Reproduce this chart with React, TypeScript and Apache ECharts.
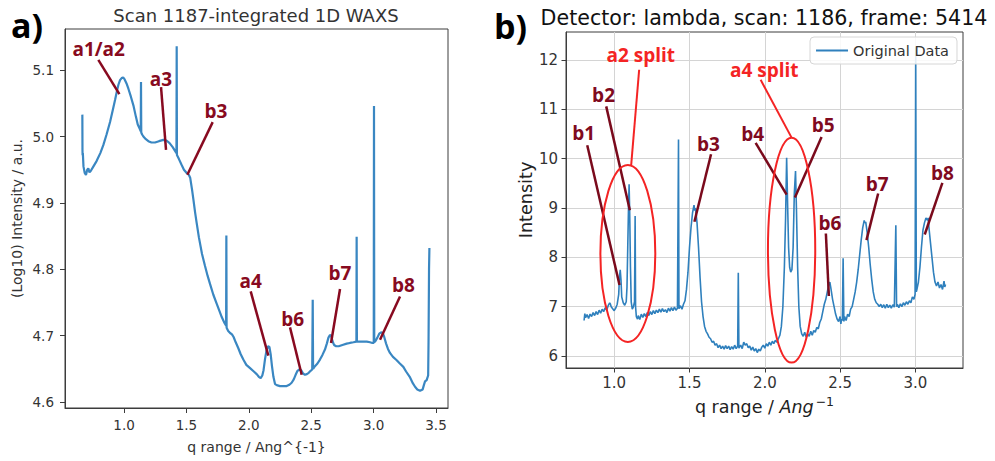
import React, { useEffect, useRef } from 'react';
import * as echarts from 'echarts';

const FONT = '"DejaVu Sans", sans-serif';
const ANN_FONT = '"Open Sans", "Liberation Sans", sans-serif';

// ---- Panel a) : Scan 1187 integrated 1D WAXS (log10 intensity) ----
const leftScan: [number, number][] = [
  [0.666, 5.033], [0.667, 4.98], [0.668, 4.972], [0.67, 4.975], [0.675, 4.955], [0.685, 4.945],
  [0.695, 4.942], [0.705, 4.95], [0.714, 4.952], [0.723, 4.946], [0.733, 4.948], [0.755, 4.955],
  [0.78, 4.963], [0.81, 4.975], [0.834, 4.987], [0.86, 5.003], [0.888, 5.022], [0.91, 5.04],
  [0.928, 5.055], [0.945, 5.07], [0.955, 5.078], [0.968, 5.085], [0.981, 5.088], [0.993, 5.089],
  [1.005, 5.086], [1.02, 5.08], [1.035, 5.072], [1.055, 5.06], [1.075, 5.047], [1.095, 5.03],
  [1.11, 5.018], [1.125, 5.012], [1.134, 5.008], [1.136, 5.082], [1.138, 5.006], [1.145, 5.003],
  [1.155, 5.0], [1.175, 4.996], [1.195, 4.993], [1.22, 4.991], [1.248, 4.991], [1.28, 4.993],
  [1.315, 4.995], [1.34, 4.994], [1.365, 4.99], [1.39, 4.984], [1.41, 4.978], [1.42, 4.975],
  [1.422, 5.136], [1.424, 4.972], [1.44, 4.966], [1.462, 4.957], [1.48, 4.95], [1.502, 4.945],
  [1.52, 4.942], [1.53, 4.938], [1.545, 4.92], [1.556, 4.905], [1.57, 4.885], [1.582, 4.87],
  [1.6, 4.848], [1.625, 4.823], [1.649, 4.805], [1.67, 4.79], [1.689, 4.778], [1.715, 4.762],
  [1.743, 4.748], [1.765, 4.737], [1.783, 4.728], [1.805, 4.719], [1.818, 4.715], [1.82, 4.851],
  [1.822, 4.712], [1.835, 4.707], [1.85, 4.704], [1.865, 4.702], [1.878, 4.698], [1.895, 4.69],
  [1.916, 4.681], [1.935, 4.672], [1.956, 4.664], [1.98, 4.656], [2.01, 4.651], [2.04, 4.646],
  [2.063, 4.642], [2.08, 4.638], [2.095, 4.636], [2.108, 4.64], [2.118, 4.648], [2.13, 4.665],
  [2.142, 4.678], [2.155, 4.684], [2.165, 4.683], [2.175, 4.672], [2.185, 4.655], [2.197, 4.638],
  [2.21, 4.627], [2.23, 4.625], [2.25, 4.624], [2.275, 4.624], [2.303, 4.624], [2.325, 4.626],
  [2.343, 4.629], [2.36, 4.634], [2.375, 4.641], [2.39, 4.647], [2.405, 4.649], [2.42, 4.648],
  [2.435, 4.643], [2.45, 4.641], [2.465, 4.642], [2.48, 4.644], [2.495, 4.647], [2.508, 4.649],
  [2.512, 4.754], [2.515, 4.65], [2.53, 4.654], [2.55, 4.658], [2.57, 4.664], [2.59, 4.671],
  [2.61, 4.679], [2.625, 4.688], [2.638, 4.697], [2.65, 4.701], [2.66, 4.7], [2.67, 4.692],
  [2.683, 4.686], [2.7, 4.684], [2.72, 4.684], [2.75, 4.686], [2.784, 4.688], [2.81, 4.689],
  [2.838, 4.69], [2.862, 4.691], [2.864, 4.849], [2.866, 4.691], [2.89, 4.691], [2.918, 4.691],
  [2.945, 4.691], [2.971, 4.69], [2.99, 4.689], [3.001, 4.689], [3.003, 5.046], [3.005, 4.69],
  [3.015, 4.692], [3.03, 4.697], [3.045, 4.703], [3.06, 4.705], [3.073, 4.704], [3.085, 4.698],
  [3.1, 4.688], [3.115, 4.68], [3.131, 4.674], [3.155, 4.668], [3.185, 4.663], [3.21, 4.658],
  [3.238, 4.653], [3.26, 4.646], [3.292, 4.637], [3.315, 4.628], [3.332, 4.623], [3.35, 4.619],
  [3.372, 4.617], [3.393, 4.619], [3.405, 4.627], [3.412, 4.631], [3.425, 4.633], [3.43, 4.636],
  [3.437, 4.64], [3.44, 4.69], [3.444, 4.8], [3.447, 4.832],
];

// ---- Panel b) : Detector lambda, scan 1186, frame 5414 ----
const rightFrame: [number, number][] = [
  [0.8, 6.72], [0.805, 6.86], [0.81, 6.78], [0.82, 6.84], [0.83, 6.76], [0.84, 6.85], [0.85, 6.8],
  [0.86, 6.88], [0.87, 6.82], [0.88, 6.9], [0.89, 6.84], [0.9, 6.93], [0.91, 6.87], [0.92, 6.95],
  [0.93, 6.9], [0.94, 6.98], [0.95, 6.93], [0.96, 7.02], [0.97, 7.08], [0.975, 7.05], [0.98, 7.0],
  [0.99, 6.96], [1.0, 6.92], [1.01, 6.97], [1.02, 7.05], [1.03, 7.25], [1.035, 7.6], [1.04, 7.75],
  [1.045, 7.55], [1.05, 7.2], [1.06, 7.08], [1.07, 7.03], [1.08, 7.1], [1.085, 7.4], [1.09, 8.2],
  [1.095, 9.0], [1.099, 9.48], [1.103, 8.9], [1.108, 7.8], [1.113, 7.1], [1.12, 6.95], [1.128, 7.0],
  [1.135, 7.1], [1.139, 8.84], [1.142, 7.0], [1.147, 6.8], [1.155, 6.75], [1.16, 6.82], [1.17, 6.74],
  [1.18, 6.85], [1.19, 6.78], [1.2, 6.86], [1.21, 6.8], [1.22, 6.88], [1.23, 6.82], [1.24, 6.9],
  [1.25, 6.84], [1.26, 6.92], [1.27, 6.86], [1.28, 6.93], [1.29, 6.88], [1.3, 6.95], [1.31, 6.89],
  [1.32, 6.96], [1.33, 6.9], [1.34, 6.94], [1.35, 6.88], [1.36, 6.97], [1.37, 6.91], [1.38, 6.98],
  [1.39, 6.92], [1.4, 6.99], [1.41, 6.93], [1.42, 6.97], [1.427, 10.39], [1.43, 6.96], [1.44, 7.02],
  [1.45, 6.95], [1.46, 7.05], [1.47, 7.12], [1.48, 7.35], [1.49, 7.7], [1.5, 8.2], [1.51, 8.6],
  [1.52, 8.9], [1.53, 9.06], [1.535, 8.95], [1.54, 9.0], [1.55, 8.7], [1.56, 8.2], [1.57, 7.6],
  [1.58, 7.1], [1.59, 6.8], [1.6, 6.6], [1.61, 6.5], [1.62, 6.45], [1.63, 6.38], [1.64, 6.35],
  [1.65, 6.28], [1.66, 6.3], [1.67, 6.22], [1.68, 6.25], [1.69, 6.17], [1.7, 6.22], [1.71, 6.15],
  [1.72, 6.2], [1.73, 6.14], [1.74, 6.21], [1.75, 6.15], [1.76, 6.2], [1.77, 6.13], [1.78, 6.19],
  [1.79, 6.14], [1.8, 6.22], [1.81, 6.15], [1.82, 6.2], [1.824, 7.69], [1.828, 6.16], [1.84, 6.22],
  [1.85, 6.15], [1.86, 6.28], [1.87, 6.22], [1.88, 6.25], [1.89, 6.17], [1.9, 6.2], [1.91, 6.12],
  [1.92, 6.18], [1.93, 6.1], [1.94, 6.15], [1.95, 6.07], [1.96, 6.14], [1.97, 6.1], [1.98, 6.18],
  [1.99, 6.22], [2.0, 6.16], [2.01, 6.25], [2.02, 6.2], [2.03, 6.28], [2.04, 6.22], [2.05, 6.3],
  [2.06, 6.25], [2.07, 6.32], [2.08, 6.28], [2.09, 6.35], [2.1, 6.42], [2.11, 6.6], [2.12, 7.0],
  [2.13, 7.8], [2.138, 8.8], [2.145, 10.02], [2.152, 9.0], [2.158, 8.2], [2.165, 7.8], [2.172, 7.7],
  [2.18, 7.75], [2.188, 8.2], [2.196, 9.3], [2.204, 9.75], [2.21, 9.0], [2.218, 7.8], [2.226, 7.0],
  [2.235, 6.6], [2.245, 6.45], [2.255, 6.4], [2.265, 6.48], [2.275, 6.38], [2.285, 6.45], [2.295, 6.4],
  [2.305, 6.5], [2.315, 6.42], [2.325, 6.52], [2.335, 6.48], [2.345, 6.58], [2.355, 6.55], [2.365, 6.68],
  [2.375, 6.75], [2.385, 6.9], [2.395, 7.05], [2.405, 7.15], [2.415, 7.3], [2.425, 7.45], [2.432, 7.5],
  [2.44, 7.35], [2.45, 7.15], [2.46, 7.0], [2.47, 6.85], [2.48, 6.75], [2.49, 6.7], [2.5, 6.8],
  [2.505, 6.65], [2.51, 6.75], [2.515, 6.72], [2.52, 7.98], [2.525, 6.7], [2.53, 6.8], [2.54, 6.72],
  [2.55, 6.85], [2.56, 6.8], [2.57, 6.95], [2.58, 7.0], [2.59, 7.15], [2.6, 7.3], [2.61, 7.5],
  [2.62, 7.75], [2.63, 8.05], [2.64, 8.35], [2.65, 8.6], [2.66, 8.75], [2.665, 8.7], [2.67, 8.72],
  [2.68, 8.5], [2.69, 8.2], [2.7, 7.85], [2.71, 7.55], [2.72, 7.3], [2.73, 7.15], [2.74, 7.08],
  [2.75, 7.05], [2.76, 7.0], [2.77, 7.05], [2.78, 6.98], [2.79, 7.04], [2.8, 6.97], [2.81, 7.05],
  [2.82, 6.98], [2.83, 7.03], [2.84, 6.97], [2.85, 7.04], [2.86, 6.99], [2.87, 8.65], [2.875, 7.0],
  [2.88, 7.05], [2.89, 6.98], [2.9, 7.06], [2.91, 7.0], [2.92, 7.08], [2.93, 7.03], [2.94, 7.1],
  [2.95, 7.05], [2.96, 7.12], [2.97, 7.08], [2.98, 7.2], [2.99, 7.15], [2.998, 7.25], [3.002, 12.26],
  [3.006, 7.3], [3.01, 7.35], [3.02, 7.5], [3.03, 7.8], [3.04, 8.2], [3.05, 8.55], [3.06, 8.7],
  [3.07, 8.8], [3.08, 8.75], [3.085, 8.8], [3.09, 8.6], [3.1, 8.3], [3.11, 8.0], [3.12, 7.7],
  [3.13, 7.5], [3.14, 7.42], [3.15, 7.5], [3.16, 7.38], [3.17, 7.45], [3.18, 7.35], [3.19, 7.52],
  [3.195, 7.4], [3.2, 7.45],
];

// tick values
const leftXTicks = [1.0, 1.5, 2.0, 2.5, 3.0, 3.5];
const leftYTicks = [4.6, 4.7, 4.8, 4.9, 5.0, 5.1];
const rightXTicks = [1.0, 1.5, 2.0, 2.5, 3.0];
const rightYTicks = [6, 7, 8, 9, 10, 11, 12];

// annotations (data coordinates)
const leftNotes = [
  { text: 'a1/a2', at: [0.797, 5.1316], from: [0.794, 5.1156], to: [0.963, 5.0639] },
  { text: 'a3', at: [1.2965, 5.087], from: [1.2965, 5.0744], to: [1.3365, 4.98] },
  { text: 'b3', at: [1.737, 5.0378], from: [1.7105, 5.0217], to: [1.5075, 4.9424] },
  { text: 'a4', at: [2.015, 4.7817], from: [2.015, 4.7667], to: [2.1565, 4.6698] },
  { text: 'b6', at: [2.3515, 4.725], from: [2.33, 4.7125], to: [2.4236, 4.6412] },
  { text: 'b7', at: [2.7308, 4.7943], from: [2.7308, 4.7702], to: [2.6587, 4.6889] },
  { text: 'b8', at: [3.2383, 4.7767], from: [3.2115, 4.7591], to: [3.0513, 4.6939] },
];
const rightNotes = [
  { text: 'a2 split', split: true, at: [1.1768, 12.094], from: [1.1657, 11.804], to: [1.1127, 9.868] },
  { text: 'a4 split', split: true, at: [1.9967, 11.804], from: [1.9724, 11.602], to: [2.1779, 10.428] },
  { text: 'b1', split: false, at: [0.7967, 10.522], from: [0.821, 10.273], to: [1.0354, 7.439] },
  { text: 'b2', split: false, at: [0.9293, 11.298], from: [0.947, 11.062], to: [1.1039, 8.957] },
  { text: 'b3', split: false, at: [1.6254, 10.306], from: [1.6431, 10.09], to: [1.5326, 8.721] },
  { text: 'b4', split: false, at: [1.9193, 10.509], from: [1.9392, 10.32], to: [2.1448, 9.274] },
  { text: 'b5', split: false, at: [2.3878, 10.691], from: [2.3768, 10.441], to: [2.2, 9.213] },
  { text: 'b6', split: false, at: [2.432, 8.7], from: [2.4055, 8.484], to: [2.4254, 7.216] },
  { text: 'b7', split: false, at: [2.7459, 9.497], from: [2.7525, 9.294], to: [2.6751, 8.35] },
  { text: 'b8', split: false, at: [3.179, 9.713], from: [3.179, 9.51], to: [3.0619, 8.464] },
];
const splitEllipses = [
  { center: [1.0906, 8.08], rx: 0.1823, ry: 1.795 },
  { center: [2.1779, 8.147], rx: 0.157, ry: 2.281 },
];

const DARK_RED = '#880a20';
const RED = '#f42424';
const AXIS = '#3c3c3c';

export default function App() {
  const ref = useRef<HTMLDivElement>(null);
  useEffect(() => {
    if (!ref.current) return;
    const chart = echarts.init(ref.current, undefined, { renderer: 'svg' });

    const tickCommon = { show: true, length: 5, inside: false, lineStyle: { color: AXIS, width: 1 } };
    const option: any = {
      animation: false,
      textStyle: { fontFamily: FONT },
      grid: [
        { left: 65, top: 29, width: 383, height: 379, show: true, borderColor: AXIS, borderWidth: 1, backgroundColor: 'transparent' },
        { left: 566, top: 32, width: 397, height: 336, show: true, borderColor: AXIS, borderWidth: 1, backgroundColor: 'transparent' },
      ],
      xAxis: [
        {
          gridIndex: 0, type: 'value', min: 0.527, max: 3.596,
          axisLine: { show: true, lineStyle: { color: AXIS } },
          axisTick: { ...tickCommon, customValues: leftXTicks },
          axisLabel: { customValues: leftXTicks, formatter: (v: number) => v.toFixed(1), fontSize: 13.5, color: '#333', margin: 10, fontFamily: FONT },
          splitLine: { show: false },
          name: 'q range / Ang^{-1}', nameLocation: 'middle', nameGap: 32,
          nameTextStyle: { fontSize: 14, color: '#333', fontFamily: FONT },
        },
        {
          gridIndex: 1, type: 'value', min: 0.68, max: 3.316,
          axisLine: { show: true, lineStyle: { color: AXIS } },
          axisTick: { ...tickCommon, length: 4.5, customValues: rightXTicks },
          axisLabel: { customValues: rightXTicks, formatter: (v: number) => v.toFixed(1), fontSize: 15, color: '#333', margin: 7, fontFamily: FONT },
          splitLine: { show: true, lineStyle: { color: '#d4d4d4', width: 1 } },
          name: 'q range / {i|Ang}{s|−1}', nameLocation: 'middle', nameGap: 26,
          nameTextStyle: {
            fontSize: 17.5, color: '#222', fontFamily: FONT,
            rich: {
              i: { fontSize: 17.5, fontStyle: 'italic', color: '#222', fontFamily: FONT },
              s: { fontSize: 12.5, color: '#222', fontFamily: FONT, padding: [0, 0, 12, 2] },
            },
          },
        },
      ],
      yAxis: [
        {
          gridIndex: 0, type: 'value', min: 4.591, max: 5.162,
          axisLine: { show: true, lineStyle: { color: AXIS } },
          axisTick: { ...tickCommon, customValues: leftYTicks },
          axisLabel: { customValues: leftYTicks, formatter: (v: number) => v.toFixed(1), fontSize: 13.5, color: '#333', margin: 11, fontFamily: FONT },
          splitLine: { show: false },
          name: '(Log10) Intensity / a.u.', nameLocation: 'middle', nameGap: 41,
          nameTextStyle: { fontSize: 14, color: '#333', fontFamily: FONT },
        },
        {
          gridIndex: 1, type: 'value', min: 5.757, max: 12.57,
          axisLine: { show: true, lineStyle: { color: AXIS } },
          axisTick: { ...tickCommon, length: 4.5, customValues: rightYTicks },
          axisLabel: { customValues: rightYTicks, formatter: (v: number) => String(Math.round(v)), fontSize: 15, color: '#333', margin: 8, fontFamily: FONT },
          splitLine: { show: true, lineStyle: { color: '#d4d4d4', width: 1 } },
          name: 'Intensity', nameLocation: 'middle', nameGap: 30,
          nameTextStyle: { fontSize: 17.6, color: '#222', fontFamily: FONT },
        },
      ],
      legend: {
        data: ['Original Data'],
        right: 38, top: 37,
        icon: 'rect', itemWidth: 32, itemHeight: 2, itemGap: 8,
        padding: [6, 8, 6, 6],
        backgroundColor: 'rgba(255,255,255,0.85)',
        borderColor: '#d6d6d6', borderWidth: 1, borderRadius: 4,
        textStyle: { fontSize: 14.5, color: '#333', fontFamily: FONT },
        z: 20,
      },
      series: [
        {
          name: 'Scan 1187', type: 'line', xAxisIndex: 0, yAxisIndex: 0,
          data: leftScan, showSymbol: false, symbol: 'none', z: 3,
          lineStyle: { color: '#3a87c2', width: 2.2 }, itemStyle: { color: '#3a87c2' },
        },
        {
          name: 'Original Data', type: 'line', xAxisIndex: 1, yAxisIndex: 1,
          data: rightFrame, showSymbol: false, symbol: 'none', z: 3,
          lineStyle: { color: '#2f80bd', width: 1.6 }, itemStyle: { color: '#2f80bd' },
        },
        {
          name: 'notesA', type: 'scatter', xAxisIndex: 0, yAxisIndex: 0, z: 5,
          symbolSize: 1, itemStyle: { color: 'rgba(0,0,0,0)' }, silent: true,
          data: leftNotes.map((n) => ({ value: n.at, label: { formatter: n.text } })),
          label: { show: true, position: 'inside', color: DARK_RED, opacity: 1, fontFamily: ANN_FONT, fontWeight: 'bold', fontSize: 19 },
          markLine: {
            symbol: ['none', 'none'], silent: true, label: { show: false },
            lineStyle: { color: DARK_RED, width: 2.5, type: 'solid', opacity: 1 },
            data: leftNotes.map((n) => [{ coord: n.from }, { coord: n.to }]),
          },
        },
        {
          name: 'notesB', type: 'scatter', xAxisIndex: 1, yAxisIndex: 1, z: 5,
          symbolSize: 1, itemStyle: { color: 'rgba(0,0,0,0)' }, silent: true,
          data: rightNotes.map((n) => ({ value: n.at, label: { formatter: n.text, color: n.split ? RED : '#800a1e' } })),
          label: { show: true, position: 'inside', opacity: 1, fontFamily: ANN_FONT, fontWeight: 'bold', fontSize: 19 },
          markLine: {
            symbol: ['none', 'none'], silent: true, label: { show: false },
            lineStyle: { width: 2.5, type: 'solid', opacity: 1 },
            data: rightNotes.map((n) => [
              { coord: n.from, lineStyle: { color: n.split ? RED : '#7a0a1c', width: n.split ? 2 : 2.5 } },
              { coord: n.to },
            ]),
          },
        },
      ],
    };
    chart.setOption(option);

    const finder = { xAxisIndex: 1, yAxisIndex: 1 };
    const ellipses = splitEllipses.map((e) => {
      const c = chart.convertToPixel(finder, e.center) as number[];
      const p = chart.convertToPixel(finder, [e.center[0] + e.rx, e.center[1] + e.ry]) as number[];
      return {
        type: 'ellipse',
        shape: { cx: c[0], cy: c[1], rx: Math.abs(p[0] - c[0]), ry: Math.abs(c[1] - p[1]) },
        style: { fill: 'none', stroke: RED, lineWidth: 2 },
        z: 10, silent: true,
      };
    });

    chart.setOption({
      graphic: [
        ...ellipses,
        { type: 'text', x: 11, y: 25, z: 10, style: { text: 'a)', font: `bold 34px ${ANN_FONT}`, fill: '#000', textVerticalAlign: 'middle', textAlign: 'left' } },
        { type: 'text', x: 494, y: 26, z: 10, style: { text: 'b)', font: `bold 34px ${ANN_FONT}`, fill: '#000', textVerticalAlign: 'middle', textAlign: 'left' } },
        { type: 'text', x: 256, y: 15, z: 10, style: { text: 'Scan 1187-integrated 1D WAXS', font: `18px ${FONT}`, fill: '#333', textVerticalAlign: 'middle', textAlign: 'center' } },
        { type: 'text', x: 764, y: 18, z: 10, style: { text: 'Detector: lambda, scan: 1186, frame: 5414', font: `20.6px ${FONT}`, fill: '#111', textVerticalAlign: 'middle', textAlign: 'center' } },
      ],
    });

    return () => chart.dispose();
  }, []);
  return <div ref={ref} style={{ position: 'fixed', left: 0, top: 0, width: 995, height: 461, background: '#fff' }} />;
}
